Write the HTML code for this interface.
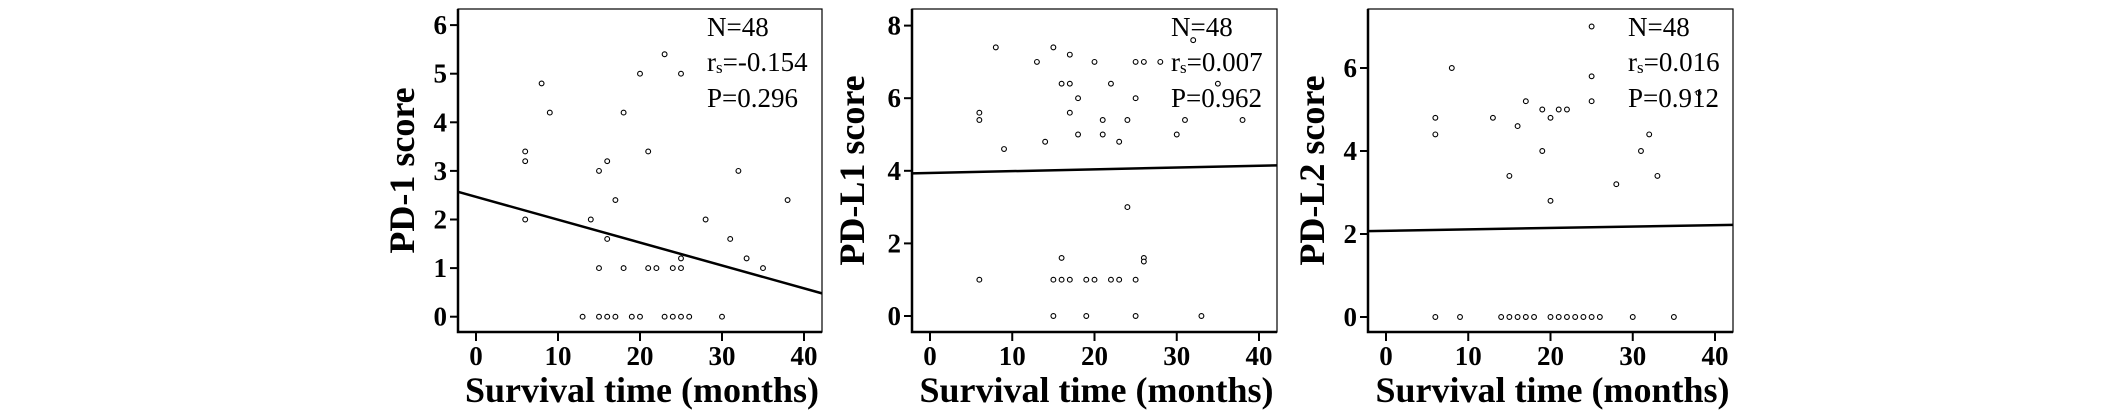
<!DOCTYPE html>
<html><head><meta charset="utf-8"><style>
html,body{margin:0;padding:0;background:#fff;}
svg{display:block;font-family:"Liberation Serif",serif;}
</style></head><body>
<svg id="fig" width="2126" height="418" viewBox="0 0 2126 418" xmlns="http://www.w3.org/2000/svg"></svg>
<script>
// Panel 1: PD-1
const pd1X = [6,6,6,8,9,13,14,15,15,15,16,16,16,17,17,18,18,19,20,20,21,21,22,23,23,24,24,25,25,25,25,26,28,30,31,32,33,35,38];
const pd1Y = [3.4,3.2,2,4.8,4.2,0,2,3,1,0,3.2,1.6,0,2.4,0,4.2,1,0,5,0,3.4,1,1,5.4,0,1,0,5,1.2,1,0,0,2,0,1.6,3,1.2,1,2.4];
const pd1Fit = [2.57,0.48];
const pd1Ticks = [0,1,2,3,4,5,6];
const pd1Stats = ["N=48","-0.154","P=0.296"];
// Panel 2: PD-L1
const pdl1X = [6,6,6,8,9,13,14,15,15,15,16,16,16,17,17,17,17,18,18,19,19,20,20,21,21,22,22,23,23,24,24,25,25,25,25,26,26,26,28,30,31,32,33,35,38];
const pdl1Y = [5.6,5.4,1,7.4,4.6,7,4.8,7.4,1,0,6.4,1.6,1,7.2,6.4,5.6,1,6,5,1,0,7,1,5.4,5,6.4,1,4.8,1,5.4,3,7,6,1,0,7,1.6,1.5,7,5,5.4,7.6,0,6.4,5.4];
const pdl1Fit = [3.93,4.15];
const pdl1Ticks = [0,2,4,6,8];
const pdl1Stats = ["N=48","0.007","P=0.962"];
// Panel 3: PD-L2
const pdl2X = [6,6,6,8,9,13,14,15,15,16,16,17,17,18,19,19,20,20,20,21,21,22,22,23,24,25,25,25,25,26,28,30,31,32,33,35,38];
const pdl2Y = [4.8,4.4,0,6,0,4.8,0,3.4,0,4.6,0,5.2,0,0,5,4,4.8,2.8,0,5,0,5,0,0,0,7,5.8,5.2,0,0,3.2,0,4,4.4,3.4,0,5.4];
const pdl2Fit = [2.07,2.22];
const pdl2Ticks = [0,2,4,6];
const pdl2Stats = ["N=48","0.016","P=0.912"];
const xTicks = [0,10,20,30,40];

const NS="http://www.w3.org/2000/svg";
const svg=document.getElementById('fig');
function mk(tag,attrs,parent){const e=document.createElementNS(NS,tag);for(const k in attrs)e.setAttribute(k,attrs[k]);(parent||svg).appendChild(e);return e;}

function panel(cfg){
  const g=mk('g',{});
  
  
  const xs=v=>cfg.x0+v*(cfg.x40-cfg.x0)/40;
  const ys=v=>cfg.y0-v*cfg.yu;
  const L=cfg.left,R=cfg.right,T=9,B=332;
  const box=mk('rect',{x:L,y:T,width:R-L,height:B-T,fill:'none',stroke:'#000','stroke-width':1.2},g);
  
  
  const ax=mk('path',{d:`M${L},${T}V${B}H${R}`,fill:'none',stroke:'#000','stroke-width':2.5},g);
  
  
  cfg.yt.forEach(v=>{
    mk('line',{x1:L-8,x2:L,y1:ys(v),y2:ys(v),stroke:'#000','stroke-width':2},g);
    const t=mk('text',{x:L-11,y:ys(v)+9,'text-anchor':'end','font-size':27,'font-weight':'bold'},g);
    t.textContent=v;
    
    
  });
  xTicks.forEach(v=>{
    mk('line',{x1:xs(v),x2:xs(v),y1:B,y2:B+9,stroke:'#000','stroke-width':2},g);
    const t=mk('text',{x:xs(v),y:365,'text-anchor':'middle','font-size':27,'font-weight':'bold'},g);
    t.textContent=v;
    
    
  });
  const xt=mk('text',{x:(L+R)/2+2,y:402,'text-anchor':'middle','font-size':36,'font-weight':'bold'},g);
  xt.textContent='Survival time (months)';
  
  
  const yt=mk('text',{x:0,y:0,'text-anchor':'middle','font-size':36,'font-weight':'bold',transform:`translate(${cfg.ylx+12},${(T+B)/2}) rotate(-90)`},g);
  yt.textContent=cfg.ylabel;
  
  
  // fit line across the frame
  const xl=(L-cfg.x0)/((cfg.x40-cfg.x0)/40), xr=(R-cfg.x0)/((cfg.x40-cfg.x0)/40);
  const fl=mk('line',{x1:L,x2:R,y1:ys(cfg.fit[0]),y2:ys(cfg.fit[1]),stroke:'#000','stroke-width':2.5},g);
  
  
  cfg.px.forEach((v,i)=>{
    const c=mk('circle',{cx:xs(v),cy:ys(cfg.py[i]),r:2.4,fill:'#fff',stroke:'#000','stroke-width':1.1},g);
    
    
  });
  const sx=cfg.sx;
  const s1=mk('text',{x:sx,y:36,'font-size':27},g); s1.textContent=cfg.stats[0];
  
  
  const s2=mk('text',{x:sx,y:71,'font-size':27},g);
  const a=mk('tspan',{},s2);a.textContent='r';
  const b=mk('tspan',{'font-size':17,dy:2},s2);b.textContent='s';
  const c2=mk('tspan',{dy:-2},s2);c2.textContent='='+cfg.stats[1];
  
  
  const s3=mk('text',{x:sx,y:107,'font-size':27},g); s3.textContent=cfg.stats[2];
  
  
}
panel({name:'pd1-panel',left:458,right:822,x0:476,x40:804,y0:316.7,yu:48.6,yt:pd1Ticks,ylabel:'PD-1 score',ylx:402,fit:pd1Fit,px:pd1X,py:pd1Y,stats:pd1Stats,sx:707});
panel({name:'pdl1-panel',left:912,right:1277,x0:930,x40:1259,y0:316,yu:36.3,yt:pdl1Ticks,ylabel:'PD-L1 score',ylx:852,fit:pdl1Fit,px:pdl1X,py:pdl1Y,stats:pdl1Stats,sx:1171});
panel({name:'pdl2-panel',left:1368,right:1733,x0:1386,x40:1715,y0:317,yu:41.5,yt:pdl2Ticks,ylabel:'PD-L2 score',ylx:1312,fit:pdl2Fit,px:pdl2X,py:pdl2Y,stats:pdl2Stats,sx:1628});
</script>
</body></html>
